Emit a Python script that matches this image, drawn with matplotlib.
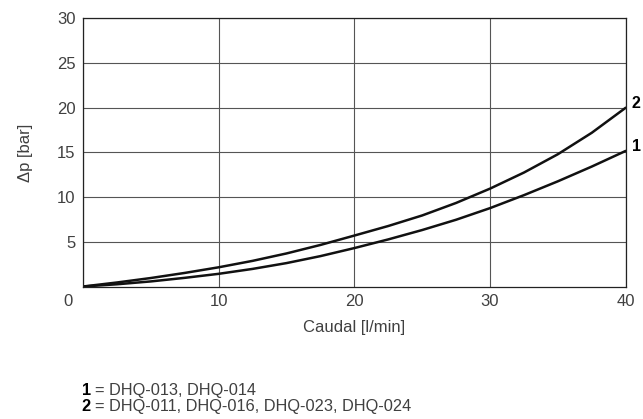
import matplotlib.pyplot as plt
from matplotlib.transforms import ScaledTranslation

# ==========================================
# Datos
# ==========================================

caudal = [0, 2.5, 5, 7.5, 10, 12.5, 15, 17.5, 20, 22.5, 25, 27.5, 30, 32.5, 35, 37.5, 40]

# curva 1 = DHQ-013, DHQ-014
dp_1 = [0, 0.25, 0.57, 0.97, 1.42, 1.97, 2.62, 3.4, 4.3, 5.27, 6.32, 7.47, 8.77,
        10.22, 11.77, 13.42, 15.17]

# curva 2 = DHQ-011, DHQ-016, DHQ-023, DHQ-024
dp_2 = [0, 0.45, 0.95, 1.52, 2.15, 2.87, 3.7, 4.65, 5.7, 6.77, 7.95, 9.35, 10.95,
        12.75, 14.8, 17.2, 20.0]

x_ticks = [0, 10, 20, 30, 40]
y_ticks = [5, 10, 15, 20, 25, 30]

# ==========================================
# Gráfico
# ==========================================

plt.rcParams['font.family'] = ['Liberation Sans', 'DejaVu Sans']
gris = '#404040'

fig = plt.figure(figsize=(6.43, 4.19), dpi=100)
ax = fig.add_axes([0.1291, 0.3162, 0.844, 0.640])

ax.plot(caudal, dp_1, color='#111111', lw=1.8, solid_capstyle='round')
ax.plot(caudal, dp_2, color='#111111', lw=1.8, solid_capstyle='round')

ax.set_xlim(0, 40)
ax.set_ylim(0, 30)
ax.set_xticks(x_ticks)
ax.set_yticks(y_ticks)
ax.tick_params(length=0, labelsize=12, labelcolor=gris, pad=5.5)

# el "0" va desplazado a la izquierda
lbl0 = ax.get_xticklabels()[0]
lbl0.set_transform(lbl0.get_transform() + ScaledTranslation(-0.15, 0, fig.dpi_scale_trans))

ax.grid(True, color='#555555', lw=0.8)
for s in ax.spines.values():
    s.set_color('#222222')
    s.set_linewidth(0.9)

ax.set_xlabel('Caudal [l/min]', fontsize=12, color=gris)
ax.xaxis.set_label_coords(0.5, -0.125)
ax.set_ylabel('Δp [bar]', fontsize=12, color=gris)
ax.yaxis.set_label_coords(-0.092, 0.5)

# etiquetas de las curvas
ax.text(40.44, dp_2[-1], '2', fontsize=11.5, fontweight='bold', va='baseline', ha='left',
        clip_on=False)
ax.text(40.44, dp_1[-1], '1', fontsize=11.5, fontweight='bold', va='baseline', ha='left',
        clip_on=False)

# leyenda
fig.text(81.7 / 643, 0.0573, '1', fontsize=11.8, fontweight='bold', color='black', va='baseline')
fig.text(95 / 643, 0.0573, '= DHQ-013, DHQ-014', fontsize=11.8, color=gris, va='baseline')
fig.text(81.7 / 643, 0.0198, '2', fontsize=11.8, fontweight='bold', color='black', va='baseline')
fig.text(95 / 643, 0.0198, '= DHQ-011, DHQ-016, DHQ-023, DHQ-024', fontsize=11.8, color=gris,
         va='baseline')

fig.savefig('out.png', dpi=100)
